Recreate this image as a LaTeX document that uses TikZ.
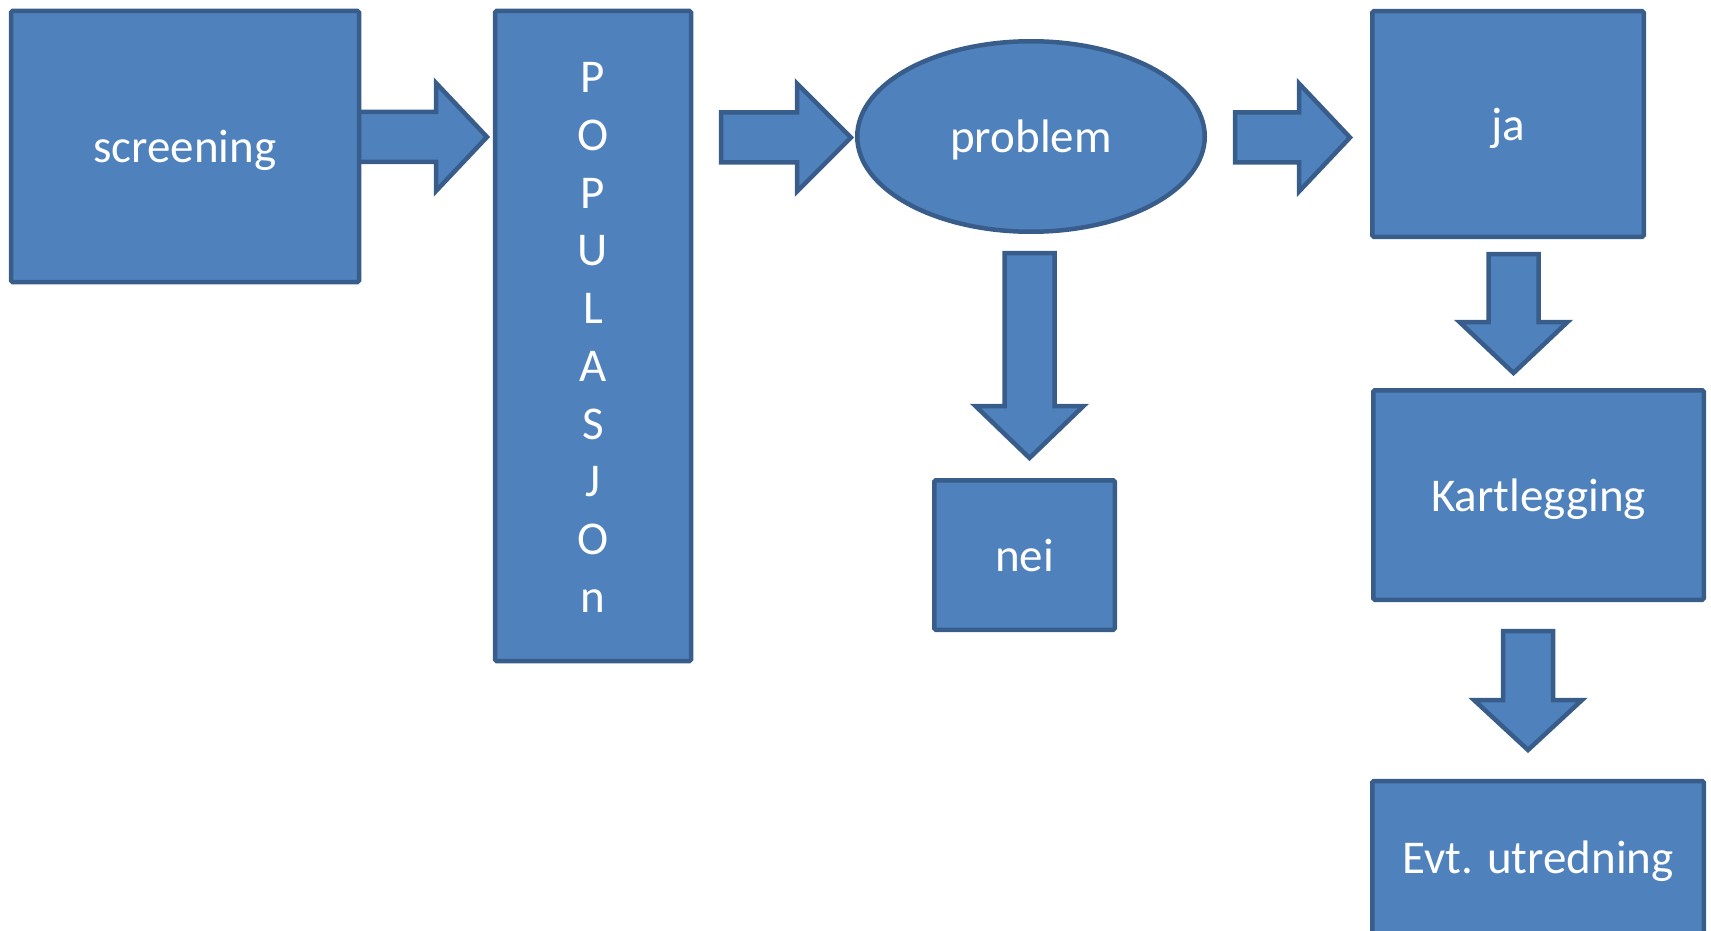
\documentclass[tikz,border=0pt]{standalone}
\usepackage{fontspec}
\setmainfont{Carlito}
\usetikzlibrary{shapes.geometric}
\definecolor{boxfill}{HTML}{4F81BD}
\definecolor{boxline}{HTML}{385D8A}
\newcommand\harrowshape[4]{% x-start, x-base, x-tip, y-center
  \draw[blockarrow] (#1,#4-25) -- (#2,#4-25) -- (#2,#4-54) -- (#3,#4)
    -- (#2,#4+54) -- (#2,#4+25) -- (#1,#4+25) -- cycle;}
\newcommand\varrowshape[4]{% x-center, y-start, y-base, y-tip
  \draw[blockarrow] (#1-25,#2) -- (#1-25,#3) -- (#1-54,#3) -- (#1,#4)
    -- (#1+54,#3) -- (#1+25,#3) -- (#1+25,#2) -- cycle;}
\begin{document}
\begin{tikzpicture}[x=1pt,y=-1pt,
  box/.style={draw=boxline, fill=boxfill, line width=4.5pt, rounded corners=1.5pt,
    text=white, font=\fontsize{47}{56}\selectfont, inner sep=0pt,
    text height=33pt, text depth=0pt},
  oval/.style={draw=boxline, fill=boxfill, line width=4.5pt, ellipse,
    text=white, font=\fontsize{47}{56}\selectfont, inner sep=0pt,
    text height=33pt, text depth=0pt},
  blockarrow/.style={draw=boxline, fill=boxfill, line width=4.5pt, line join=miter}]
\useasboundingbox (0,0) rectangle (1711,931);
\clip (0,0) rectangle (1711,931);
% block arrows (drawn first, boxes cover their tails)
\harrowshape{358}{436}{487}{137}
\harrowshape{721}{797}{851}{137.5}
\harrowshape{1235}{1299}{1350}{137.5}
\varrowshape{1029.5}{253}{406}{458}
\varrowshape{1513.5}{254}{322}{373}
\varrowshape{1528}{631}{700}{750}
% boxes
\node[box, minimum width=348pt, minimum height=271pt] (scr) at (185,146.5) {screening};
\node[box, minimum width=196pt, minimum height=650pt, align=center,
  font=\fontsize{47}{57.7}\selectfont, text height=552.3pt, text depth=0pt]
  (pop) at (593,336) {P\\O\\P\\U\\L\\A\\S\\J\\O\\n};
\node[oval, minimum width=347.5pt, minimum height=190.5pt] (prob) at (1031,136.5) {problem};
\node[box, minimum width=180.5pt, minimum height=149.5pt] (nei) at (1024.5,555) {nei};
\node[box, minimum width=271.5pt, minimum height=225.5pt] (ja) at (1508,124) {ja};
\node[box, minimum width=330.5pt, minimum height=209.5pt] (kart) at (1538.5,495) {Kartlegging};
\node[box, minimum width=331.5pt, minimum height=169pt, text height=15pt] (evt) at (1538,865.5) {Evt. utredning};
\end{tikzpicture}
\end{document}
